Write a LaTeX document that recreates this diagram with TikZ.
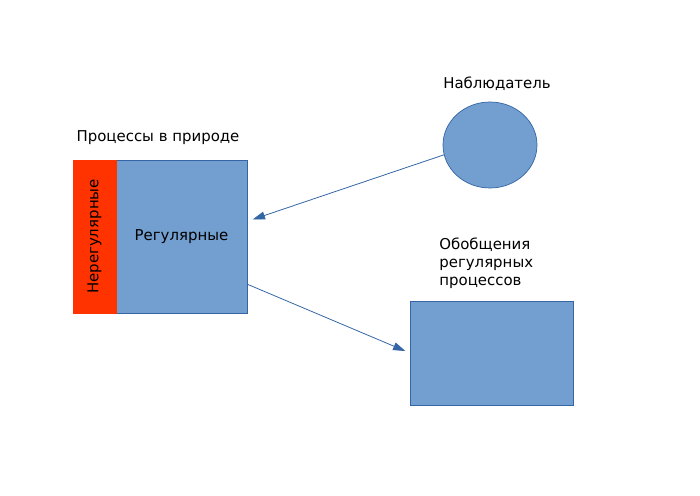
\documentclass[tikz,border=0pt]{standalone}
\usepackage{fontspec}
\setmainfont{DejaVu Sans}
\usepackage{xcolor}
\usetikzlibrary{shapes,arrows.meta,positioning}
\definecolor{boxblue}{HTML}{729FCF}
\definecolor{lineblue}{HTML}{3465A4}
\definecolor{boxred}{HTML}{FF3300}
\newcommand{\lbl}{\fontsize{8.5pt}{10.2pt}\selectfont}
\tikzset{
	>={Triangle[length=7pt,width=4.5pt]},
	regbox/.style={rectangle, draw=lineblue, fill=boxblue, minimum width=2.62cm, minimum height=3.06cm, outer sep=0pt, font=\lbl},
	irrbox/.style={rectangle, draw=boxred, fill=boxred, minimum width=0.86cm, minimum height=3.06cm, outer sep=0pt},
	obsnode/.style={ellipse, draw=lineblue, fill=boxblue, minimum width=1.88cm, minimum height=1.72cm, outer sep=0pt},
	genbox/.style={rectangle, draw=lineblue, fill=boxblue, minimum width=3.26cm, minimum height=2.08cm, outer sep=0pt},
	caption/.style={font=\lbl, inner sep=0pt, align=left},
	link/.style={->, draw=lineblue, line width=0.45pt}
}

\begin{document}
\begin{tikzpicture}

	\useasboundingbox (0,0) rectangle (14,-9.9);

	% --- Nodes ---
	\node[regbox] (reg) at (3.63,-4.73) {Регулярные};
	\node[irrbox, left=0pt of reg] (irr) {};
	\node[caption, rotate=90] (irrtext) at (irr.center) {Нерегулярные};
	\node[caption] (nature) at (3.16,-2.76) {Процессы в природе};

	\node[obsnode] (obs) at (9.8,-2.9) {};
	\node[caption] (obstext) at (9.94,-1.68) {Наблюдатель};

	\node[genbox] (gen) at (9.83,-7.06) {};
	\node[caption, anchor=west] (gentext) at (8.78,-5.26) {Обобщения\\регулярных\\процессов};

	% --- Connections ---
	\draw[link, shorten >=0.12cm] (obs.192) -- (reg.13);
	\draw[link, shorten >=0.1cm] (reg.-36) -- (gen.west);

\end{tikzpicture}
\end{document}
